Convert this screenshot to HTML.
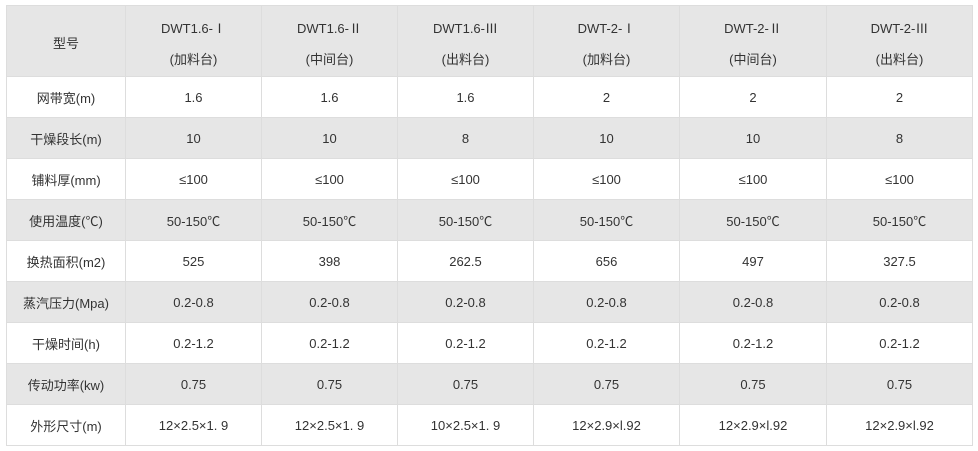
<!DOCTYPE html>
<html><head><meta charset="utf-8"><style>
html,body{margin:0;padding:0;background:#fff;width:978px;height:451px;overflow:hidden}
table{position:absolute;left:6px;top:5px;border-collapse:collapse;table-layout:fixed;width:966px;font-family:"Liberation Sans","Noto Sans CJK SC",sans-serif;font-size:13px;color:#333}
td{border:1px solid #ddd;text-align:center;padding:0;height:40px}
tr.g td{background:#e6e6e6}
tr.h td{height:71px;line-height:31px;padding-top:4px;box-sizing:border-box}
.r{font-family:"Noto Sans CJK SC",sans-serif}
</style></head><body>
<table>
<colgroup><col style="width:119px"><col style="width:136px"><col style="width:136px"><col style="width:136px"><col style="width:146px"><col style="width:147px"><col style="width:146px"></colgroup>
<tr class="g h"><td>型号</td><td>DWT1.6-<span class="r">Ⅰ</span><br>(加料台)</td><td>DWT1.6-<span class="r">Ⅱ</span><br>(中间台)</td><td>DWT1.6-<span class="r">Ⅲ</span><br>(出料台)</td><td>DWT-2-<span class="r">Ⅰ</span><br>(加料台)</td><td>DWT-2-<span class="r">Ⅱ</span><br>(中间台)</td><td>DWT-2-<span class="r">Ⅲ</span><br>(出料台)</td></tr>
<tr><td>网带宽(m)</td><td>1.6</td><td>1.6</td><td>1.6</td><td>2</td><td>2</td><td>2</td></tr>
<tr class="g"><td>干燥段长(m)</td><td>10</td><td>10</td><td>8</td><td>10</td><td>10</td><td>8</td></tr>
<tr><td>铺料厚(mm)</td><td>≤100</td><td>≤100</td><td>≤100</td><td>≤100</td><td>≤100</td><td>≤100</td></tr>
<tr class="g"><td>使用温度(℃)</td><td>50-150℃</td><td>50-150℃</td><td>50-150℃</td><td>50-150℃</td><td>50-150℃</td><td>50-150℃</td></tr>
<tr><td>换热面积(m2)</td><td>525</td><td>398</td><td>262.5</td><td>656</td><td>497</td><td>327.5</td></tr>
<tr class="g"><td>蒸汽压力(Mpa)</td><td>0.2-0.8</td><td>0.2-0.8</td><td>0.2-0.8</td><td>0.2-0.8</td><td>0.2-0.8</td><td>0.2-0.8</td></tr>
<tr><td>干燥时间(h)</td><td>0.2-1.2</td><td>0.2-1.2</td><td>0.2-1.2</td><td>0.2-1.2</td><td>0.2-1.2</td><td>0.2-1.2</td></tr>
<tr class="g"><td>传动功率(kw)</td><td>0.75</td><td>0.75</td><td>0.75</td><td>0.75</td><td>0.75</td><td>0.75</td></tr>
<tr><td>外形尺寸(m)</td><td>12×2.5×1. 9</td><td>12×2.5×1. 9</td><td>10×2.5×1. 9</td><td>12×2.9×l.92</td><td>12×2.9×l.92</td><td>12×2.9×l.92</td></tr>
</table>
</body></html>
